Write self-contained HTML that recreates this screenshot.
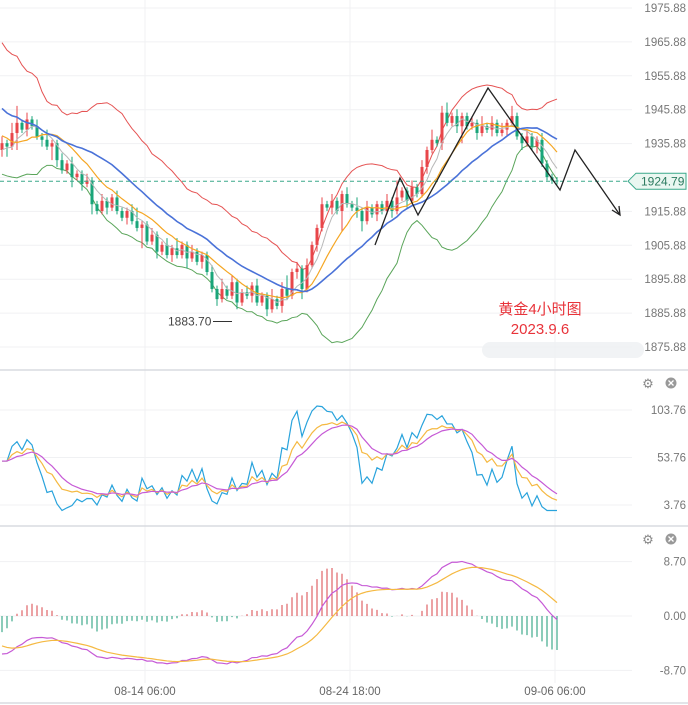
<!DOCTYPE html>
<html><head><meta charset="utf-8"><style>
html,body{margin:0;padding:0;background:#fff;overflow:hidden}
svg{display:block;font-family:"Liberation Sans","Noto Sans CJK SC",sans-serif}
</style></head><body>
<svg id="c" width="688" height="705" viewBox="0 0 688 705"></svg>
<script>
const preCloses=[1958,1962,1955,1950,1960,1956,1948,1952,1960,1954,1946,1942,1950,1944,1936,1940,1932,1938,1930,1934];
const closes=[1936,1935,1939,1942,1940,1943,1941,1938,1937,1935,1936,1931,1928,1930,1926,1927,1924,1925,1918,1916,
1919,1917,1920,1916,1914,1916,1913,1911,1912,1907,1909,1904,1906,1903,1905,1903,1906,1902,1904,1901,
1903,1898,1893,1890,1893,1891,1895,1889,1892,1891,1894,1889,1891,1887,1890,1888,1893,1891,1898,1899,
1893,1900,1906,1911,1918,1917,1919,1916,1921,1918,1917,1916,1913,1917,1915,1918,1916,1919,1916,1920,
1922,1919,1923,1921,1929,1934,1937,1936,1945,1942,1944,1941,1944,1941,1942,1939,1941,1940,1942,1939,
1940,1942,1944,1938,1936,1938,1935,1937,1930,1926,1925,1924.79];
const wickUp=[2,1,3,5,1,2,1,2,1,3,1,1,2,1,2,1,1,2,1,1,2,1,1,2,1,1,2,4,1,1,2,1,1,2,1,3,1,1,2,1,1,1,2,1,3,1,2,1,1,2,1,2,1,1,3,1,2,4,1,2,1,2,1,1,2,1,2,1,1,2,1,3,1,2,1,1,1,2,1,5,1,1,2,1,2,1,3,1,2,3,1,2,1,1,2,1,3,1,2,1,2,1,3,1,1,2,1,1,2,1,1,1];
const wickDn=[2,3,1,5,1,2,1,1,2,1,4,2,1,1,3,1,2,1,3,1,1,2,1,1,1,2,1,1,6,1,1,2,1,1,2,1,1,3,1,1,2,1,1,2,1,1,1,2,1,1,2,1,1,2,1,1,2,1,1,2,3,1,1,2,1,1,2,1,6,1,1,2,3,1,1,2,1,1,2,1,1,2,1,1,1,2,1,1,2,1,1,2,5,1,1,2,1,1,2,1,1,2,1,1,2,1,1,2,1,1,1,1];
const priceTicks=[1975.88,1965.88,1955.88,1945.88,1935.88,1925.88,1915.88,1905.88,1895.88,1885.88,1875.88];
const kdjTicks=[103.76,53.76,3.76];
const macdTicks=[8.70,0.00,-8.70];
const timeLabels=["08-14 06:00","08-24 18:00","09-06 06:00"];
const timeIdx=[28,69,110];
const lastPrice=1924.79, lowMark=1883.70;

const NS="http://www.w3.org/2000/svg", svg=document.getElementById('c');
function el(t,a,p){const e=document.createElementNS(NS,t);for(const k in a)e.setAttribute(k,a[k]);(p||svg).appendChild(e);return e;}
const X=i=>2+i*5;
const Y=p=>8+(1975.88-p)*3.39;
const YK=v=>505-(v-3.76)*0.95;
const YM=v=>616-v*6.25;

priceTicks.forEach(t=>{const g=el('line',{x1:0,x2:632,y1:Y(t),y2:Y(t),stroke:'#f0f1f3'});});
kdjTicks.forEach(t=>{const g=el('line',{x1:0,x2:632,y1:YK(t),y2:YK(t),stroke:'#f0f1f3'});});
macdTicks.forEach(t=>{const g=el('line',{x1:0,x2:632,y1:YM(t),y2:YM(t),stroke:'#f0f1f3'});});
timeIdx.forEach(i=>{const g=el('line',{x1:X(i)+3,x2:X(i)+3,y1:0,y2:683,stroke:'#f0f1f3'});});
[370,526,703].forEach(y=>{const g=el('line',{x1:0,x2:688,y1:y,y2:y,stroke:'#d8dbe0','stroke-width':1.5});});

const all=preCloses.concat(closes), off=preCloses.length;
function sma(n,i){let s=0,c=0;for(let j=Math.max(0,i-n+1);j<=i;j++){s+=all[j];c++;}return s/c;}
function sd(n,i){const m=sma(n,i);let s=0,c=0;for(let j=Math.max(0,i-n+1);j<=i;j++){s+=(all[j]-m)**2;c++;}return Math.sqrt(s/c);}
function line(pts,color,w,name){const p=el('polyline',{points:pts.map(q=>q.join(',')).join(' '),fill:'none',stroke:color,'stroke-width':w});}
const up=[],dn=[],mid=[],m10=[],m5=[];
closes.forEach((c,i)=>{const k=i+off,m=sma(20,k),s=sd(20,k);
 up.push([X(i),Y(m+2*s)]);dn.push([X(i),Y(m-2*s)]);mid.push([X(i),Y(m)]);m10.push([X(i),Y(sma(10,k))]);m5.push([X(i),Y(sma(5,k))]);});
line(up,'#e55353',1,'bollinger-upper');line(dn,'#5aa55a',1,'bollinger-lower');

closes.forEach((c,i)=>{const o=i?closes[i-1]:preCloses[preCloses.length-1];const isUp=c>=o;const col=isUp?'#e8464a':'#1aa57a';
 const hi=Math.max(o,c)+wickUp[i],lo=Math.min(o,c)-wickDn[i];
 const w=el('line',{x1:X(i),x2:X(i),y1:Y(hi),y2:Y(lo),stroke:col});
 const b=el('rect',{x:X(i)-1.5,y:Y(Math.max(o,c)),width:3,height:Math.max(1,Math.abs(Y(o)-Y(c))),fill:col});});
line(m5,'#b8b8b8',1,'ma5-line');line(m10,'#f5a623',1.2,'ma10-line');line(mid,'#4a72d8',1.6,'ma20-line');

const lp=el('line',{x1:0,x2:632,y1:Y(lastPrice),y2:Y(lastPrice),stroke:'#3aa88a','stroke-dasharray':'4,3'});
const lb=el('path',{d:`M628 ${Y(lastPrice)} l8 -8 h50 v16 h-50 z`,fill:'#eaf7f1',stroke:'#3aa88a'});
const lt=el('text',{x:641,y:Y(lastPrice)+4.5,'font-size':12,fill:'#2b7a5f'});lt.textContent=lastPrice.toFixed(2);

const lm=el('line',{x1:213,x2:232,y1:Y(lowMark)+1,y2:Y(lowMark)+1,stroke:'#333'});
const ltx=el('text',{x:168,y:Y(lowMark)+5,'font-size':12,fill:'#444'});ltx.textContent=lowMark.toFixed(2);

const wave=[[375,245],[400,178],[418,215],[488,88],[560,190],[575,150],[620,215]];
line(wave,'#222',1.3,'wave-projection');
const ah=el('path',{d:'M612 210 L620 215 L619 206',fill:'none',stroke:'#222','stroke-width':1.3});

const wm=el('rect',{x:482,y:342,width:162,height:16,rx:8,fill:'#eef0f3',opacity:0.8});
const t1=el('text',{x:540,y:314,'font-size':15,fill:'#e8333a','text-anchor':'middle'});t1.textContent='黄金4小时图';
const t2=el('text',{x:540,y:334,'font-size':15,fill:'#e8333a','text-anchor':'middle'});t2.textContent='2023.9.6';

priceTicks.forEach(t=>{if(Math.abs(Y(t)-Y(lastPrice))<8)return;const a=el('text',{x:686,y:Y(t)+4,'font-size':11.5,fill:'#777','text-anchor':'end'});a.textContent=t.toFixed(2);});
kdjTicks.forEach(t=>{const a=el('text',{x:686,y:YK(t)+4,'font-size':11.5,fill:'#777','text-anchor':'end'});a.textContent=t.toFixed(2);});
macdTicks.forEach(t=>{const a=el('text',{x:686,y:YM(t)+4,'font-size':11.5,fill:'#777','text-anchor':'end'});a.textContent=t.toFixed(2);});
timeLabels.forEach((s,k)=>{const a=el('text',{x:X(timeIdx[k])+3,y:695,'font-size':11.5,fill:'#666','text-anchor':'middle'});a.textContent=s;});
[383,539].forEach(y=>{const g=el('text',{x:648,y:y+5,'font-size':13,fill:'#888','text-anchor':'middle'});g.textContent='⚙';
 const c=el('circle',{cx:671,cy:y,r:5.5,fill:'#999'});
 const xx=el('path',{d:`M668.5 ${y-2.5} l5 5 M673.5 ${y-2.5} l-5 5`,stroke:'#fff','stroke-width':1.3});});

const hiA=closes.map((c,i)=>Math.max(c,i?closes[i-1]:c)+wickUp[i]),loA=closes.map((c,i)=>Math.min(c,i?closes[i-1]:c)-wickDn[i]);
let K=50,D=50;const kP=[],dP=[],jP=[];const clip=v=>Math.max(-2,Math.min(108,v));
closes.forEach((c,i)=>{let h=-1e9,l=1e9;for(let j=Math.max(0,i-8);j<=i;j++){h=Math.max(h,hiA[j]);l=Math.min(l,loA[j]);}
 const rsv=h>l?(c-l)/(h-l)*100:50;K=2/3*K+rsv/3;D=2/3*D+K/3;const J=3*K-2*D;
 kP.push([X(i),YK(clip(K))]);dP.push([X(i),YK(clip(D))]);jP.push([X(i),YK(clip(J))]);});
line(jP,'#29a3dc',1.2,'kdj-j-line');line(kP,'#f5b942',1.2,'kdj-k-line');line(dP,'#c65ad6',1.2,'kdj-d-line');

let e12=all[0],e26=all[0],dea=0;const dif=[],deaA=[];
all.forEach((c,k)=>{e12=e12+(c-e12)*2/13;e26=e26+(c-e26)*2/27;const d=e12-e26;dea=dea+(d-dea)*0.2;if(k>=off){dif.push(d);deaA.push(dea);}});
const cm=v=>Math.max(-10,Math.min(10,v));
dif.forEach((d,i)=>{const h=cm(2*(d-deaA[i]));const b=el('line',{x1:X(i),x2:X(i),y1:YM(0),y2:YM(h),stroke:h>=0?'#d9454a':'#1a9a75','stroke-width':1});});
line(dif.map((d,i)=>[X(i),YM(cm(d))]),'#c65ad6',1.2,'macd-dif-line');
line(deaA.map((d,i)=>[X(i),YM(cm(d))]),'#f5b942',1.2,'macd-dea-line');
</script>
</body></html>
